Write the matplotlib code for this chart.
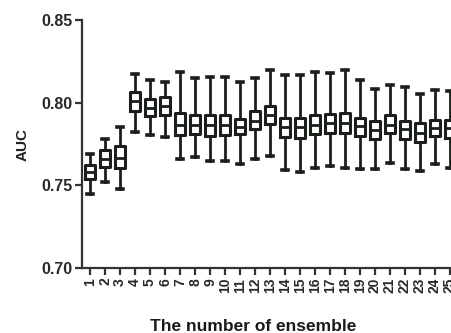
import matplotlib
matplotlib.use("Agg")
import matplotlib.pyplot as plt

plt.rcParams['font.family'] = ['Liberation Sans', 'DejaVu Sans']

# AUC box statistics for each ensemble size
ensemble = list(range(1, 26))
whislo = [0.7448, 0.7518, 0.7478, 0.7822, 0.7804, 0.7792, 0.7658, 0.7672, 0.7648, 0.7648,
          0.7628, 0.7658, 0.7678, 0.7592, 0.7578, 0.7608, 0.7618, 0.7604, 0.7598, 0.7598,
          0.7638, 0.7598, 0.7588, 0.7628, 0.7608]
q1 = [0.7538, 0.7612, 0.7608, 0.7952, 0.7918, 0.7924, 0.7804, 0.7812, 0.7798, 0.7804,
      0.7812, 0.7838, 0.7872, 0.7792, 0.7788, 0.7812, 0.7818, 0.7818, 0.7798, 0.7778,
      0.7818, 0.7778, 0.7764, 0.7798, 0.7788]
med = [0.7578, 0.7662, 0.7668, 0.8008, 0.7968, 0.7978, 0.7868, 0.7868, 0.7868, 0.7864,
       0.7854, 0.7888, 0.7928, 0.7852, 0.7852, 0.7868, 0.7878, 0.7878, 0.7858, 0.7832,
       0.7868, 0.7838, 0.7818, 0.7848, 0.7848]
q3 = [0.7624, 0.7712, 0.7738, 0.8064, 0.8024, 0.8032, 0.7938, 0.7928, 0.7928, 0.7928,
      0.7904, 0.7948, 0.7978, 0.7908, 0.7908, 0.7928, 0.7932, 0.7938, 0.7908, 0.7888,
      0.7924, 0.7892, 0.7878, 0.7898, 0.7898]
whishi = [0.7692, 0.7778, 0.7852, 0.8172, 0.8138, 0.8128, 0.8188, 0.8152, 0.8158, 0.8158,
          0.8128, 0.8150, 0.8198, 0.8168, 0.8168, 0.8188, 0.8178, 0.8198, 0.8138, 0.8084,
          0.8104, 0.8092, 0.8052, 0.8078, 0.8068]

stats = []
for i in range(len(ensemble)):
    stats.append({'whislo': whislo[i], 'q1': q1[i], 'med': med[i],
                  'q3': q3[i], 'whishi': whishi[i], 'fliers': []})

col = '#1a1f1a'
fig = plt.figure(figsize=(4.51, 3.33), dpi=100)
ax = fig.add_axes([0.182, 0.195, 0.818, 0.745])

ax.bxp(stats, positions=ensemble, widths=0.66, showfliers=False,
       boxprops=dict(color=col, linewidth=2.2),
       medianprops=dict(color=col, linewidth=2.0),
       whiskerprops=dict(color=col, linewidth=2.0),
       capprops=dict(color=col, linewidth=2.6),
       capwidths=0.42)

ax.set_xlim(0.47, 25.07)
ax.set_ylim(0.70, 0.85)
ax.set_yticks([0.70, 0.75, 0.80, 0.85])
ax.set_yticklabels(['0.70', '0.75', '0.80', '0.85'], fontsize=11.5,
                   fontweight='bold', color='#2a2a2a')
ax.set_xticks(ensemble)
ax.set_xticklabels([str(e) for e in ensemble], rotation=90, fontsize=10,
                   fontweight='bold', color='#2a2a2a')

for s in ['top', 'right']:
    ax.spines[s].set_visible(False)
for s in ['left', 'bottom']:
    ax.spines[s].set_linewidth(1.6)
    ax.spines[s].set_color('#333333')
ax.tick_params(axis='both', direction='out', length=5, width=1.6, color='#333333', pad=2)

ax.set_ylabel('AUC', fontsize=11, fontweight='bold', color='#222222', labelpad=8)
ax.set_xlabel('The number of ensemble', fontsize=12.5, fontweight='bold',
              color='#1a1a1a')
ax.xaxis.set_label_coords(0.463, -0.205)

fig.savefig('out.png', dpi=100)
